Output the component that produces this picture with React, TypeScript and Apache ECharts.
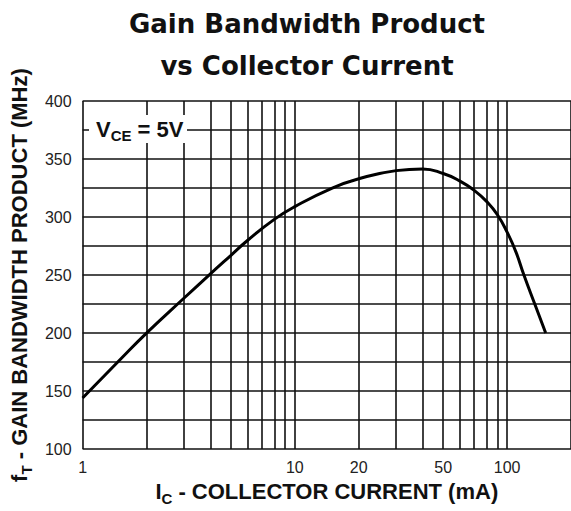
import React, { useEffect, useRef } from 'react';
import * as echarts from 'echarts';

// Collector current (mA) and gain-bandwidth product fT (MHz)
const collectorCurrent = [1, 1.5, 2, 3, 4, 5, 6, 8, 10, 15, 20, 30, 40, 50, 60, 70, 80, 90, 100, 110, 120, 135, 152];
const gainBandwidth = [144, 177, 200, 230, 251, 267, 280, 298, 309, 325, 333, 340, 341.5, 337.5, 331, 323, 313.5, 302, 287, 270, 250, 225, 200];

const xTickLabels = [1, 10, 20, 50, 100];
const xGridValues = [1, 2, 3, 4, 5, 6, 7, 8, 9, 10, 20, 30, 40, 50, 60, 70, 80, 90, 100, 200];
const yTickLabels = [100, 150, 200, 250, 300, 350, 400];

const titleText = 'Gain Bandwidth Product\nvs Collector Current';
const conditionLabel = '{v|V}{s|CE}{v| = 5V}';

const SANS = '"Liberation Sans", Arial, Helvetica, sans-serif';
const TITLE_FONT = '"DejaVu Sans", Verdana, sans-serif';

export default function App() {
  const ref = useRef<HTMLDivElement>(null);

  useEffect(() => {
    if (!ref.current) return;
    const chart = echarts.init(ref.current, null, { renderer: 'svg' });

    const nameRich = {
      n: { fontFamily: SANS, fontWeight: 'bold', fontSize: 22, lineHeight: 30, color: '#111' },
      s: { fontFamily: SANS, fontWeight: 'bold', fontSize: 15, lineHeight: 12, verticalAlign: 'bottom', color: '#111' },
    };

    chart.setOption({
      animation: false,
      backgroundColor: '#ffffff',
      grid: { left: 78, top: 101, bottom: 58, right: -4 },
      xAxis: {
        type: 'log',
        logBase: 10,
        min: 1,
        max: 200,
        axisLine: { show: false },
        axisTick: { show: false, customValues: xGridValues },
        splitLine: { show: true, lineStyle: { color: '#111', width: 1.6 } },
        axisLabel: {
          customValues: xTickLabels,
          formatter: (v: number) => String(v),
          margin: 10,
          fontSize: 16,
          fontFamily: SANS,
          color: '#222',
        },
        name: '{n|I}{s|C}{n| - COLLECTOR CURRENT (mA)}',
        nameLocation: 'middle',
        nameGap: 26,
        nameTextStyle: { rich: nameRich },
      },
      yAxis: {
        type: 'value',
        min: 100,
        max: 400,
        interval: 25,
        axisLine: { show: false },
        axisTick: { show: false },
        splitLine: { show: true, lineStyle: { color: '#111', width: 1.6 } },
        axisLabel: {
          customValues: yTickLabels,
          margin: 11,
          fontSize: 16,
          fontFamily: SANS,
          color: '#222',
        },
        name: '{n|f}{s|T}{n| - GAIN BANDWIDTH PRODUCT (MHz)}',
        nameLocation: 'middle',
        nameGap: 38,
        nameTextStyle: { rich: nameRich },
      },
      series: [
        {
          type: 'line',
          data: collectorCurrent.map((c, i) => [c, gainBandwidth[i]]),
          smooth: 0.5,
          showSymbol: false,
          symbol: 'none',
          lineStyle: { color: '#000', width: 3 },
          z: 5,
        },
      ],
      graphic: [
        {
          type: 'text',
          x: 307,
          y: 3,
          z: 100,
          style: {
            text: titleText,
            font: 'bold 26px ' + TITLE_FONT,
            align: 'center',
            verticalAlign: 'top',
            lineHeight: 42,
            fill: '#111',
          },
        },
        {
          type: 'rect',
          z: 100,
          shape: { x: 89, y: 115, width: 98, height: 28 },
          style: { fill: '#ffffff' },
        },
        {
          type: 'text',
          x: 96,
          y: 129,
          z: 101,
          style: {
            text: conditionLabel,
            verticalAlign: 'middle',
            align: 'left',
            rich: {
              v: { fontFamily: SANS, fontWeight: 'bold', fontSize: 22, lineHeight: 28, fill: '#111', color: '#111' },
              s: { fontFamily: SANS, fontWeight: 'bold', fontSize: 15, lineHeight: 14, verticalAlign: 'bottom', fill: '#111', color: '#111' },
            },
          },
        },
      ],
    });

    return () => chart.dispose();
  }, []);

  return (
    <div
      ref={ref}
      style={{ position: 'fixed', left: 0, top: 0, width: 571, height: 511, background: '#fff' }}
    />
  );
}
